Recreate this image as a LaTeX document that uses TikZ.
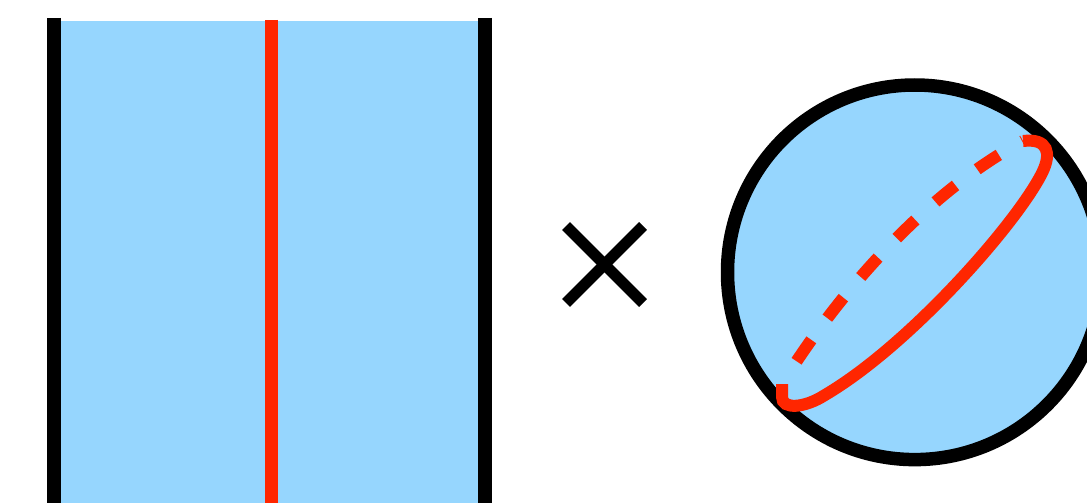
\documentclass[tikz,border=0pt]{standalone}
\definecolor{skyfill}{RGB}{150,214,254}
\definecolor{cutred}{RGB}{255,38,0}
\begin{document}
\begin{tikzpicture}[x=1pt,y=-1pt,
  edge/.style={line width=13.5pt,black},
  redline/.style={line width=13pt,cutred},
  loopline/.style={line width=12pt,cutred},
  crossline/.style={line width=11pt,black}]
\useasboundingbox (0,0) rectangle (1087,503);
\begin{scope}
\clip (0,0) rectangle (1087,503);
% cylinder strip
\fill[skyfill] (54,21) rectangle (485,503);
\coordinate (lt) at (54,18);   \coordinate (lb) at (54,503);
\coordinate (rt) at (485,18);  \coordinate (rb) at (485,503);
\coordinate (mt) at (271.5,20); \coordinate (mb) at (271.5,503);
\draw[edge] (lt) -- (lb);
\draw[edge] (rt) -- (rb);
\draw[redline] (mt) -- (mb);
% times sign
\coordinate (x1) at (566,226); \coordinate (x2) at (643,303);
\coordinate (x3) at (566,303); \coordinate (x4) at (643,226);
\draw[crossline] (x1) -- (x2);
\draw[crossline] (x3) -- (x4);
% sphere
\coordinate (c) at (914.8,272.3);
\draw[line width=13.5pt,black,fill=skyfill] (c) circle[radius=187.3pt];
% loop on sphere
\coordinate (p) at (782,384);
\coordinate (q) at (1023,141);
\draw[loopline,dash pattern=on 26pt off 27pt,dash phase=26pt]
  (p) .. controls (840,290) and (930,190) .. (q);
\draw[loopline]
  (p) -- (782,397) .. controls (782,410) and (805,408) .. (825,395)
  .. controls (910,345) and (1017,223) .. (1042,173)
  .. controls (1052,153) and (1048,138) .. (q);
\end{scope}
\end{tikzpicture}
\end{document}
